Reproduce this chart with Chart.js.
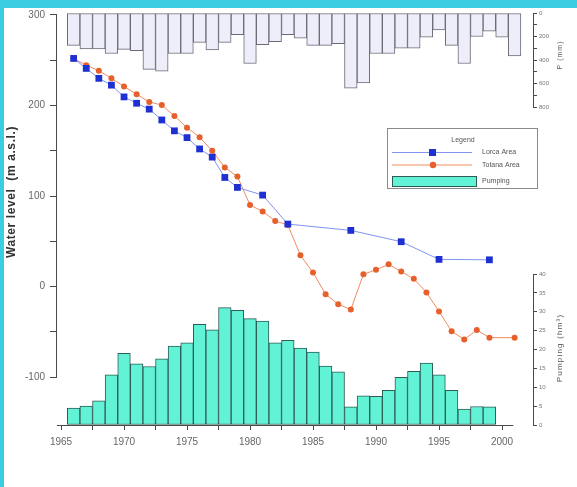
<!DOCTYPE html>
<html>
<head>
<meta charset="utf-8">
<script src="https://cdn.jsdelivr.net/npm/chart.js@4.4.1/dist/chart.umd.min.js"></script>
<style>
  html, body { margin: 0; padding: 0; background: #fff; }
  #wrap { position: relative; width: 577px; height: 487px; overflow: hidden; }
  .band-top { position: absolute; left: 0; top: 0; width: 577px; height: 8px; background: #3ccde3; }
  .band-left { position: absolute; left: 0; top: 0; width: 4px; height: 487px; background: #3ccde3; }
  canvas { position: absolute; left: 0; top: 0; }
</style>
</head>
<body>
<div id="wrap">
  <div class="band-top"></div>
  <div class="band-left"></div>
  <canvas id="chart" width="577" height="487"></canvas>
</div>
<script>
// precipitation (mm), hanging from the top
const rainYears = [1966, 1967, 1968, 1969, 1970, 1971, 1972, 1973, 1974, 1975, 1976, 1977, 1978, 1979, 1980, 1981, 1982, 1983,
  1984, 1985, 1986, 1987, 1988, 1989, 1990, 1991, 1992, 1993, 1994, 1995, 1996, 1997, 1998, 1999, 2000, 2001]
const rain = [275, 305, 305, 345, 310, 320, 480, 495, 345, 345, 250, 315, 250, 185, 430, 270, 245, 185,
  215, 275, 275, 260, 640, 595, 345, 345, 300, 300, 205, 145, 275, 430, 200, 155, 205, 365]

// pumping (hm3 / year)
const pumpYears = [1966, 1967, 1968, 1969, 1970, 1971, 1972, 1973, 1974, 1975, 1976, 1977, 1978, 1979, 1980, 1981, 1982,
  1983, 1984, 1985, 1986, 1987, 1988, 1989, 1990, 1991, 1992, 1993, 1994, 1995, 1996, 1997, 1998, 1999]
const pumping = [4.5, 5, 6.4, 13.3, 19, 16.2, 15.5, 17.5, 20.9, 21.8, 26.7, 25.2, 31.1, 30.4, 28.2, 27.5, 21.8,
  22.4, 20.4, 19.3, 15.6, 14.1, 4.8, 7.7, 7.6, 9.2, 12.6, 14.2, 16.4, 13.3, 9.2, 4.2, 4.9, 4.8]

// water levels (m a.s.l.)
const areaAYears = [1966, 1967, 1968, 1969, 1970, 1971, 1972, 1973, 1974, 1975, 1976, 1977, 1978, 1979, 1981, 1983, 1988, 1992, 1995, 1999]
const areaALevel = [252, 241, 230, 222.5, 209.5, 202.5, 196, 184, 172, 164.5, 152, 143, 120.5, 109.5, 101, 69, 62, 49.5, 30, 29.5]
const areaBYears = [1966, 1967, 1968, 1969, 1970, 1971, 1972, 1973, 1974, 1975, 1976, 1977, 1978, 1979, 1980, 1981, 1982,
  1983, 1984, 1985, 1986, 1987, 1988, 1989, 1990, 1991, 1992, 1993, 1994, 1995, 1996, 1997, 1998, 1999, 2001]
const areaBLevel = [252, 244.5, 238.5, 230, 221, 212.5, 204, 200.5, 188.5, 175.5, 165, 150, 131.5, 121.5, 90, 83, 72.5,
  68, 34.5, 15.5, -8.5, -19.5, -25.5, 13.5, 18.5, 24.5, 16.5, 8.5, -6.5, -27.5, -49.5, -58.5, -48, -56.5, -56.5]

const seriesNames = ['Lorca Area', 'Totana Area', 'Pumping', 'Precipitation']

// ticks
const yearTicks = [1965, 1967.5, 1970, 1972.5, 1975, 1977.5, 1980, 1982.5, 1985, 1987.5, 1990, 1992.5, 1995, 1997.5, 2000]
const yearLabels = ['1965', '', '1970', '', '1975', '', '1980', '', '1985', '', '1990', '', '1995', '', '2000']
const levelTicks = [-100, -50, 0, 50, 100, 150, 200, 250, 300]
const levelLabels = ['-100', '', '0', '', '100', '', '200', '', '300']
const rainTicks = [0, 100, 200, 300, 400, 500, 600, 700, 800]
const rainLabels = ['0', '', '200', '', '400', '', '600', '', '800']
const pumpTicks = [0, 5, 10, 15, 20, 25, 30, 35, 40]
const pumpLabels = ['0', '5', '10', '15', '20', '25', '30', '35', '40']

const pts = (xs, ys) => xs.map((v, i) => ({ x: v, y: ys[i] }))
const setTicks = list => scale => { scale.ticks = list.map(v => ({ value: v })) }

Chart.defaults.font.family = '"Liberation Sans", Arial, sans-serif'

const axisColor = '#4a4a4a'

// axis lines, titles and legend box (Origin style floating axes)
const decor = {
  id: 'decor',
  afterDraw(chart) {
    const { ctx, scales: { x, yLevel, yRain, yPump } } = chart
    const ds = chart.data.datasets
    ctx.save()
    ctx.strokeStyle = axisColor
    ctx.lineWidth = 1
    const line = (x1, y1, x2, y2) => { ctx.beginPath(); ctx.moveTo(x1, y1); ctx.lineTo(x2, y2); ctx.stroke() }

    const lx = Math.round(yLevel.right) - 0.5
    line(lx, yLevel.getPixelForValue(levelTicks[0]), lx, yLevel.getPixelForValue(levelTicks.at(-1)))
    const rx = Math.round(yRain.left) + 0.5
    line(rx, yRain.getPixelForValue(rainTicks[0]), rx, yRain.getPixelForValue(rainTicks.at(-1)))
    line(rx, yPump.getPixelForValue(pumpTicks[0]), rx, yPump.getPixelForValue(pumpTicks.at(-1)))
    const by = Math.round(x.top) + 0.5
    line(x.getPixelForValue(x.min), by, x.getPixelForValue(2000.9), by)

    // axis titles
    const vtext = (txt, cx, cy, font, color, spacing) => {
      ctx.save()
      ctx.translate(cx, cy)
      ctx.rotate(-Math.PI / 2)
      ctx.font = font
      ctx.letterSpacing = spacing
      ctx.fillStyle = color
      ctx.textAlign = 'center'
      ctx.textBaseline = 'middle'
      ctx.fillText(txt, 0, 0)
      ctx.restore()
    }
    vtext('Water level  (m a.s.l.)', 12, 192, 'bold 12px "Liberation Sans", Arial', '#333', '0.6px')
    vtext('P (mm)', 560, 55, '7px "Liberation Sans", Arial', '#555', '1px')
    vtext('Pumping (hm³)', 560, 348, '8px "Liberation Sans", Arial', '#555', '1.2px')

    // legend
    const lb = { x: 387, y: 128, w: 150, h: 60 }
    ctx.fillStyle = '#fff'
    ctx.fillRect(lb.x, lb.y, lb.w, lb.h)
    ctx.strokeStyle = '#8a8a8a'
    ctx.strokeRect(lb.x + 0.5, lb.y + 0.5, lb.w, lb.h)
    ctx.font = '7px "Liberation Sans", Arial'
    ctx.fillStyle = '#555'
    ctx.textAlign = 'center'
    ctx.textBaseline = 'middle'
    ctx.fillText('Legend', 463, 140)
    ctx.textAlign = 'left'
    const rows = [152.5, 165]
    rows.forEach((ry, i) => {
      const d = ds[i]
      ctx.strokeStyle = d.borderColor
      line(392, ry, 472, ry)
      ctx.fillStyle = d.pointBackgroundColor
      if (d.pointStyle === 'rect') ctx.fillRect(429, ry - 3.5, 7, 7)
      else { ctx.beginPath(); ctx.arc(433, ry, 3.2, 0, Math.PI * 2); ctx.fill() }
      ctx.fillStyle = '#555'
      ctx.fillText(d.label, 482, ry)
    })
    ctx.fillStyle = ds[2].backgroundColor
    ctx.fillRect(392, 176, 84, 10)
    ctx.strokeStyle = ds[2].borderColor
    ctx.strokeRect(392.5, 176.5, 84, 10)
    ctx.fillStyle = '#555'
    ctx.fillText(ds[2].label, 482, 181)
    ctx.restore()
  }
}

new Chart(document.getElementById('chart'), {
  type: 'bar',
  data: {
    datasets: [
      {
        type: 'line',
        label: seriesNames[0],
        data: pts(areaAYears, areaALevel),
        yAxisID: 'yLevel',
        borderColor: '#8193f3',
        borderWidth: 1,
        pointStyle: 'rect',
        pointRadius: 4.8,
        pointBorderWidth: 0,
        pointBackgroundColor: '#1f30d2',
        order: 0
      },
      {
        type: 'line',
        label: seriesNames[1],
        data: pts(areaBYears, areaBLevel),
        yAxisID: 'yLevel',
        borderColor: '#f08b62',
        borderWidth: 1,
        pointStyle: 'circle',
        pointRadius: 3,
        pointBorderWidth: 0,
        pointBackgroundColor: '#e6602c',
        order: 1
      },
      {
        label: seriesNames[2],
        data: pts(pumpYears, pumping),
        yAxisID: 'yPump',
        backgroundColor: '#62f2d6',
        borderColor: '#2d5c56',
        borderWidth: 1,
        borderSkipped: false,
        grouped: false,
        categoryPercentage: 1,
        barPercentage: 1,
        order: 2
      },
      {
        label: seriesNames[3],
        data: pts(rainYears, rain),
        yAxisID: 'yRain',
        backgroundColor: '#eeeefb',
        borderColor: '#6b6b75',
        borderWidth: 1,
        borderSkipped: false,
        grouped: false,
        categoryPercentage: 1,
        barPercentage: 1,
        order: 3
      }
    ]
  },
  options: {
    responsive: false,
    animation: false,
    devicePixelRatio: 1,
    layout: { padding: { top: 13, left: 0, right: 0, bottom: 0 } },
    plugins: { legend: { display: false }, tooltip: { enabled: false } },
    scales: {
      x: {
        type: 'linear',
        min: 1964.68,
        max: 2002.46,
        offset: false,
        afterBuildTicks: setTicks(yearTicks),
        afterFit: s => { s.height = 62 },
        ticks: { autoSkip: false, maxRotation: 0, padding: 6, color: '#666', font: { size: 10 },
          callback: (v, i) => yearLabels[i] },
        grid: { offset: false, drawOnChartArea: false, tickLength: 5, color: axisColor },
        border: { display: false }
      },
      yLevel: {
        position: 'left',
        min: -153,
        max: 302.2,
        afterBuildTicks: setTicks(levelTicks),
        afterFit: s => { s.width = 57 },
        ticks: { autoSkip: false, padding: 5, color: '#666', font: { size: 10 },
          callback: (v, i) => levelLabels[i] },
        grid: { drawOnChartArea: false, tickLength: 7, color: axisColor },
        border: { display: false }
      },
      yRain: {
        position: 'right',
        stack: 'right',
        stackWeight: 94,
        reverse: true,
        min: 0,
        max: 800,
        afterBuildTicks: setTicks(rainTicks),
        afterFit: s => { s.width = 44 },
        ticks: { autoSkip: false, padding: 2, color: '#777', font: { size: 6 },
          callback: (v, i) => rainLabels[i] },
        grid: { drawOnChartArea: false, tickLength: 4, color: axisColor },
        border: { display: false }
      },
      yPump: {
        position: 'right',
        stack: 'right',
        stackWeight: 318,
        min: 0,
        max: 84.24,
        afterBuildTicks: setTicks(pumpTicks),
        afterFit: s => { s.width = 44 },
        ticks: { autoSkip: false, padding: 2, color: '#777', font: { size: 6 },
          callback: (v, i) => pumpLabels[i] },
        grid: { drawOnChartArea: false, tickLength: 4, color: axisColor },
        border: { display: false }
      }
    }
  },
  plugins: [decor]
})
</script>
</body>
</html>
